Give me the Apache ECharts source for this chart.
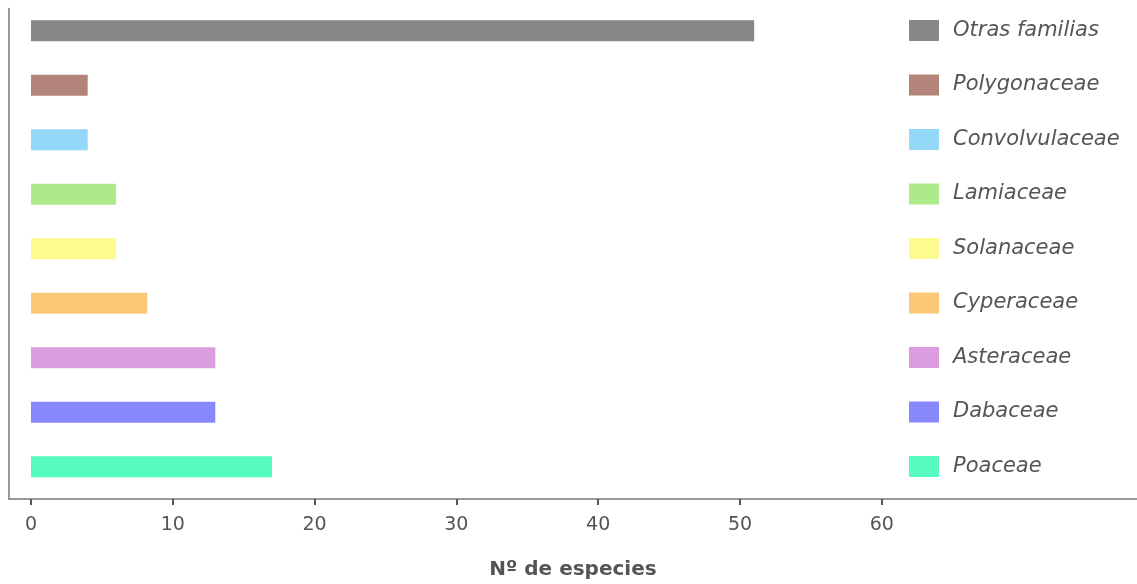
<!DOCTYPE html>
<html><head><meta charset="utf-8">
<script src="https://cdn.jsdelivr.net/npm/echarts@6/dist/echarts.min.js"></script>
<style>html,body{margin:0;padding:0;background:#fff}#c{width:1137px;height:584px}</style>
</head><body><div id="c"></div>
<script>
// bottom to top
const families = ['Poaceae','Dabaceae','Asteraceae','Cyperaceae','Solanaceae','Lamiaceae','Convolvulaceae','Polygonaceae','Otras familias'];
const speciesCount = [17, 13, 13, 8.2, 6, 6, 4, 4, 51];
const colors = ['#55fbbf','#8788fb','#dc9ddf','#fbc877','#fdfb8f','#aee98a','#94d8f9','#b3857a','#878787'];
const tickValues = [0,10,20,30,40,50,60];
const xMin = -1.55, xMax = 78;

const series = families.map((f,i)=>({
  name: f, type:'bar', stack:'all', barWidth:21,
  xAxisIndex:0, yAxisIndex:0,
  itemStyle:{color:colors[i]},
  data: families.map((_,j)=> j===i ? speciesCount[i] : null)
}));

const chart = echarts.init(document.getElementById('c'));
chart.setOption({
  animation:false,
  grid:[
    {left:9, right:0, top:3.5, bottom:90, outerBoundsMode:'none'},
    {left:9, right:0, top:8.5, bottom:85, outerBoundsMode:'none'}
  ],
  legend:{
    orient:'vertical', left:909, top:20, padding:0,
    itemWidth:30, itemHeight:21, itemGap:33.5, icon:'rect',
    textStyle:{fontFamily:'DejaVu Sans', fontStyle:'italic', fontSize:21, lineHeight:21, color:'#555', padding:[0,0,0,9]},
    data: families.slice().reverse()
  },
  xAxis:[
    {gridIndex:0, type:'value', min:xMin, max:xMax, show:false, splitLine:{show:false}},
    {gridIndex:1, type:'value', min:xMin, max:xMax,
      splitLine:{show:false},
      axisLine:{show:true, onZero:false, lineStyle:{color:'#777', width:1.5}},
      axisTick:{show:true, customValues:tickValues, length:6, lineStyle:{color:'#555', width:2}},
      axisLabel:{customValues:tickValues, fontFamily:'DejaVu Sans', fontSize:19, color:'#555', margin:17},
      name:'Nº de especies', nameLocation:'middle', nameGap:61,
      nameTextStyle:{fontFamily:'DejaVu Sans', fontWeight:'bold', fontSize:20, color:'#555'}
    }
  ],
  yAxis:[
    {gridIndex:0, type:'category', data:families, show:false},
    {gridIndex:1, type:'category', data:families,
      axisLine:{show:true, onZero:false, lineStyle:{color:'#777', width:1.5}},
      axisTick:{show:false}, axisLabel:{show:false}, splitLine:{show:false}
    }
  ],
  series
});
</script></body></html>
